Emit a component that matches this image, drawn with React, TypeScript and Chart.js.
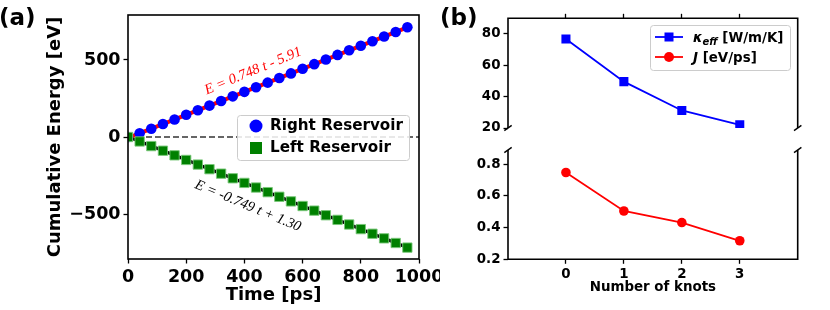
import React, { useEffect, useRef } from 'react';
import { Chart, registerables } from 'chart.js';

Chart.register(...registerables);

// ---------------- data ----------------
const timePs = [0, 40, 80, 120, 160, 200, 240, 280, 320, 360, 400, 440, 480, 520, 560, 600, 640, 680, 720, 760, 800, 840, 880, 920, 960];
const rightReservoir = [0, 24, 54, 84, 114, 144, 174, 204, 234, 264, 293, 323, 353, 383, 413, 443, 473, 503, 533, 563, 592, 622, 652, 682, 712];
const leftReservoir = [0, -29, -59, -89, -119, -149, -179, -209, -238, -268, -298, -328, -358, -388, -418, -448, -478, -508, -538, -568, -598, -628, -658, -688, -718];
const fitTime = [0, 960];
const fitRight = [-5.91, 712.2];
const fitLeft = [1.3, -717.7];
const zeroLineTime = [0, 1000];
const zeroLineEnergy = [0, 0];
const timeTicks = [0, 200, 400, 600, 800, 1000];
const energyTicks = [-500, 0, 500];

const knots = [0, 1, 2, 3];
const kappaEff = [76.8, 49.6, 31.2, 22.0];
const heatCurrent = [0.748, 0.505, 0.432, 0.317];
const kappaTicks = [20, 40, 60, 80];
const currentTicks = [0.2, 0.4, 0.6, 0.8];

const FONT = "'DejaVu Sans', 'Noto Sans', sans-serif";
const SERIF = "'Liberation Serif', 'DejaVu Serif', serif";

const pts = (xs: number[], ys: number[]) => xs.map((x, i) => ({ x, y: ys[i] }));
const fmtTick = (v: number, digits = 0) => {
  const s = Math.abs(v).toFixed(digits);
  return v < 0 ? '\u2212' + s : s;
};

function axis(fontSize: number, tickVals: number[], digits: number, extra: any) {
  return {
    type: 'linear',
    afterBuildTicks: (s: any) => {
      s.ticks = tickVals.map((v) => ({ value: v }));
    },
    ticks: {
      color: '#000',
      font: { family: FONT, size: fontSize, weight: 'bold' },
      padding: 3,
      autoSkip: false,
      maxRotation: 0,
      minRotation: 0,
      callback: (v: any) => fmtTick(Number(v), digits),
    },
    grid: {
      drawOnChartArea: false,
      drawTicks: true,
      tickLength: 4.5,
      tickColor: '#000',
      tickWidth: 1.3,
      color: '#000',
    },
    border: { display: false },
    ...extra,
  };
}

function roundRect(ctx: CanvasRenderingContext2D, x: number, y: number, w: number, h: number, r: number) {
  ctx.beginPath();
  ctx.moveTo(x + r, y);
  ctx.lineTo(x + w - r, y);
  ctx.quadraticCurveTo(x + w, y, x + w, y + r);
  ctx.lineTo(x + w, y + h - r);
  ctx.quadraticCurveTo(x + w, y + h, x + w - r, y + h);
  ctx.lineTo(x + r, y + h);
  ctx.quadraticCurveTo(x, y + h, x, y + h - r);
  ctx.lineTo(x, y + r);
  ctx.quadraticCurveTo(x, y, x + r, y);
  ctx.closePath();
}

function line(ctx: CanvasRenderingContext2D, x1: number, y1: number, x2: number, y2: number) {
  ctx.beginPath();
  ctx.moveTo(x1, y1);
  ctx.lineTo(x2, y2);
  ctx.stroke();
}

function breakMark(ctx: CanvasRenderingContext2D, x: number, y: number) {
  line(ctx, x - 3.7, y + 2.6, x + 3.7, y - 2.6);
}

function makeA(canvas: HTMLCanvasElement) {
  const decor = {
    id: 'decorA',
    afterDraw(chart: any) {
      const { ctx, chartArea: a, scales } = chart;
      ctx.save();
      ctx.strokeStyle = '#000';
      ctx.lineWidth = 1.6;
      ctx.strokeRect(a.left, a.top, a.right - a.left, a.bottom - a.top);

      // panel label
      ctx.fillStyle = '#000';
      ctx.textBaseline = 'middle';
      ctx.textAlign = 'left';
      ctx.font = `bold 23px ${FONT}`;
      ctx.fillText('(a)', -1, 19);

      // axis titles
      ctx.font = `bold 18px ${FONT}`;
      ctx.textAlign = 'center';
      ctx.fillText('Time [ps]', (a.left + a.right) / 2, 295);
      ctx.save();
      ctx.translate(55.5, (a.top + a.bottom) / 2);
      ctx.rotate(-Math.PI / 2);
      ctx.fillText('Cumulative Energy [eV]', 0, 0);
      ctx.restore();

      // fit annotations
      const xs = scales.x, ys = scales.y;
      ctx.font = `italic 14.5px ${SERIF}`;
      ctx.save();
      ctx.translate(xs.getPixelForValue(430), ys.getPixelForValue(428));
      ctx.rotate((-22.5 * Math.PI) / 180);
      ctx.fillStyle = '#ff0000';
      ctx.fillText('E = 0.748 t - 5.91', 0, 0);
      ctx.restore();
      ctx.save();
      ctx.translate(xs.getPixelForValue(412), ys.getPixelForValue(-448));
      ctx.rotate((22.5 * Math.PI) / 180);
      ctx.fillStyle = '#000';
      ctx.fillText('E = -0.749 t + 1.30', 0, 0);
      ctx.restore();

      // legend
      roundRect(ctx, 237.5, 115.5, 172, 45, 3);
      ctx.fillStyle = 'rgba(255,255,255,0.85)';
      ctx.fill();
      ctx.strokeStyle = '#cccccc';
      ctx.lineWidth = 1;
      ctx.stroke();
      ctx.fillStyle = '#0000ff';
      ctx.beginPath();
      ctx.arc(256, 126, 6.5, 0, Math.PI * 2);
      ctx.fill();
      ctx.fillStyle = '#008000';
      ctx.fillRect(250, 142, 12, 12);
      ctx.fillStyle = '#000';
      ctx.textAlign = 'left';
      ctx.font = `bold 15.2px ${FONT}`;
      ctx.fillText('Right Reservoir', 270, 126.5);
      ctx.fillText('Left Reservoir', 270, 148.5);
      ctx.restore();
    },
  };

  return new Chart(canvas, {
    type: 'scatter',
    data: {
      datasets: [
        {
          label: 'Right Reservoir',
          data: pts(timePs, rightReservoir),
          backgroundColor: '#0000ff',
          borderColor: '#0000ff',
          borderWidth: 0,
          pointStyle: 'circle',
          pointRadius: 5.3,
          showLine: false,
          order: 0.5,
        },
        {
          label: 'Left Reservoir',
          data: pts(timePs, leftReservoir),
          backgroundColor: '#008000',
          borderColor: 'rgba(120,200,120,0.9)',
          borderWidth: 1,
          pointStyle: 'rect',
          pointRadius: 6.6,
          showLine: false,
          order: 0,
        },
        {
          label: 'fit right',
          data: pts(fitTime, fitRight),
          showLine: true,
          borderColor: '#ff0000',
          borderWidth: 4,
          pointRadius: 0,
          order: 1,
        },
        {
          label: 'fit left',
          data: pts(fitTime, fitLeft),
          showLine: true,
          borderColor: '#000000',
          borderWidth: 3.2,
          pointRadius: 0,
          order: 1,
        },
        {
          label: 'zero',
          data: pts(zeroLineTime, zeroLineEnergy),
          showLine: true,
          borderColor: 'rgba(0,0,0,0.8)',
          borderWidth: 1.3,
          borderDash: [6, 3],
          pointRadius: 0,
          order: 2,
        },
      ],
    },
    options: {
      animation: false,
      responsive: false,
      devicePixelRatio: 1,
      layout: { padding: { left: 0, top: 15, right: 21, bottom: 0 } },
      plugins: { legend: { display: false }, tooltip: { enabled: false } },
      scales: {
        x: axis(17.5, timeTicks, 0, {
          min: 0,
          max: 1000,
          afterFit: (s: any) => {
            s.height = 51;
            s.paddingLeft = 0;
            s.paddingRight = 0;
          },
        }),
        y: axis(17.5, energyTicks, 0, {
          min: -792,
          max: 792,
          afterFit: (s: any) => {
            s.width = 128;
            s.paddingTop = 0;
            s.paddingBottom = 0;
          },
        }),
      },
    } as any,
    plugins: [decor],
  } as any);
}

function makeBTop(canvas: HTMLCanvasElement) {
  const decor = {
    id: 'decorBTop',
    afterDraw(chart: any) {
      const { ctx, chartArea: a } = chart;
      ctx.save();
      ctx.strokeStyle = '#000';
      ctx.lineWidth = 1.6;
      ctx.beginPath();
      ctx.moveTo(a.left, a.bottom);
      ctx.lineTo(a.left, a.top);
      ctx.lineTo(a.right, a.top);
      ctx.lineTo(a.right, a.bottom);
      ctx.stroke();
      ctx.lineWidth = 1.4;
      breakMark(ctx, a.left, a.bottom);
      breakMark(ctx, a.right, a.bottom);

      ctx.fillStyle = '#000';
      ctx.textBaseline = 'middle';
      ctx.textAlign = 'left';
      ctx.font = `bold 23px ${FONT}`;
      ctx.fillText('(b)', 0, 19);

      // legend
      roundRect(ctx, 210.5, 25.5, 140, 45, 3);
      ctx.fillStyle = 'rgba(255,255,255,0.85)';
      ctx.fill();
      ctx.strokeStyle = '#cccccc';
      ctx.lineWidth = 1;
      ctx.stroke();

      const r1 = 37, r2 = 57;
      ctx.lineWidth = 1.8;
      ctx.strokeStyle = '#0000ff';
      line(ctx, 215, r1, 243, r1);
      ctx.fillStyle = '#0000ff';
      ctx.fillRect(224.5, r1 - 4.5, 9, 9);
      ctx.strokeStyle = '#ff0000';
      line(ctx, 215, r2, 243, r2);
      ctx.fillStyle = '#ff0000';
      ctx.beginPath();
      ctx.arc(229, r2, 5, 0, Math.PI * 2);
      ctx.fill();

      ctx.fillStyle = '#000';
      ctx.textBaseline = 'alphabetic';
      let x = 253;
      ctx.font = `italic bold 13.4px ${FONT}`;
      ctx.fillText('\u03BA', x, r1 + 4.8);
      x += ctx.measureText('\u03BA').width;
      ctx.font = `italic bold 10px ${FONT}`;
      ctx.fillText('eff', x, r1 + 7.5);
      x += ctx.measureText('eff').width;
      ctx.font = `bold 13.4px ${FONT}`;
      ctx.fillText(' [W/m/K]', x, r1 + 4.8);

      x = 253;
      ctx.font = `italic bold 13.4px ${FONT}`;
      ctx.fillText('J', x, r2 + 4.8);
      x += ctx.measureText('J').width;
      ctx.font = `bold 13.4px ${FONT}`;
      ctx.fillText(' [eV/ps]', x, r2 + 4.8);
      ctx.restore();
    },
  };

  return new Chart(canvas, {
    type: 'scatter',
    data: {
      datasets: [
        {
          label: '\u03BA_eff [W/m/K]',
          data: pts(knots, kappaEff),
          showLine: true,
          borderColor: '#0000ff',
          backgroundColor: '#0000ff',
          borderWidth: 1.8,
          pointStyle: 'rect',
          pointRadius: 6.4,
          pointBorderWidth: 0,
        },
      ],
    },
    options: {
      animation: false,
      responsive: false,
      devicePixelRatio: 1,
      layout: { padding: { left: 0, top: 0, right: 32.3, bottom: 12 } },
      plugins: { legend: { display: false }, tooltip: { enabled: false } },
      scales: {
        x: axis(13.4, knots, 0, {
          position: 'top',
          min: -1,
          max: 4,
          ticks: { display: false },
          afterFit: (s: any) => {
            s.height = 18.3;
            s.paddingLeft = 0;
            s.paddingRight = 0;
          },
        }),
        y: axis(13.4, kappaTicks, 0, {
          min: 20,
          max: 90,
          afterFit: (s: any) => {
            s.width = 68;
            s.paddingTop = 0;
            s.paddingBottom = 0;
          },
        }),
      },
    } as any,
    plugins: [decor],
  } as any);
}

function makeBBottom(canvas: HTMLCanvasElement) {
  const decor = {
    id: 'decorBBottom',
    afterDraw(chart: any) {
      const { ctx, chartArea: a } = chart;
      ctx.save();
      ctx.strokeStyle = '#000';
      ctx.lineWidth = 1.6;
      ctx.beginPath();
      ctx.moveTo(a.left, a.top);
      ctx.lineTo(a.left, a.bottom);
      ctx.lineTo(a.right, a.bottom);
      ctx.lineTo(a.right, a.top);
      ctx.stroke();
      ctx.lineWidth = 1.4;
      breakMark(ctx, a.left, a.top);
      breakMark(ctx, a.right, a.top);

      ctx.fillStyle = '#000';
      ctx.textBaseline = 'middle';
      ctx.textAlign = 'center';
      ctx.font = `bold 13.4px ${FONT}`;
      ctx.fillText('Number of knots', (a.left + a.right) / 2, 148);
      ctx.restore();
    },
  };

  return new Chart(canvas, {
    type: 'scatter',
    data: {
      datasets: [
        {
          label: 'J [eV/ps]',
          data: pts(knots, heatCurrent),
          showLine: true,
          borderColor: '#ff0000',
          backgroundColor: '#ff0000',
          borderWidth: 1.8,
          pointStyle: 'circle',
          pointRadius: 4.8,
          pointBorderWidth: 0,
        },
      ],
    },
    options: {
      animation: false,
      responsive: false,
      devicePixelRatio: 1,
      layout: { padding: { left: 0, top: 10, right: 32.3, bottom: 0 } },
      plugins: { legend: { display: false }, tooltip: { enabled: false } },
      scales: {
        x: axis(13.4, knots, 0, {
          min: -1,
          max: 4,
          afterFit: (s: any) => {
            s.height = 50.7;
            s.paddingLeft = 0;
            s.paddingRight = 0;
          },
        }),
        y: axis(13.4, currentTicks, 1, {
          min: 0.2,
          max: 0.89,
          afterFit: (s: any) => {
            s.width = 68;
            s.paddingTop = 0;
            s.paddingBottom = 0;
          },
        }),
      },
    } as any,
    plugins: [decor],
  } as any);
}

export default function App() {
  const refA = useRef<HTMLCanvasElement>(null);
  const refB1 = useRef<HTMLCanvasElement>(null);
  const refB2 = useRef<HTMLCanvasElement>(null);

  useEffect(() => {
    const charts = [
      makeA(refA.current as HTMLCanvasElement),
      makeBTop(refB1.current as HTMLCanvasElement),
      makeBBottom(refB2.current as HTMLCanvasElement),
    ];
    return () => charts.forEach((c) => c.destroy());
  }, []);

  return (
    <div style={{ position: 'fixed', left: 0, top: 0, width: 830, height: 310, background: '#fff', overflow: 'hidden' }}>
      <canvas ref={refA} width={440} height={310} style={{ position: 'absolute', left: 0, top: 0, width: 440, height: 310 }} />
      <canvas ref={refB1} width={390} height={140} style={{ position: 'absolute', left: 440, top: 0, width: 390, height: 140 }} />
      <canvas ref={refB2} width={390} height={170} style={{ position: 'absolute', left: 440, top: 140, width: 390, height: 170 }} />
    </div>
  );
}
